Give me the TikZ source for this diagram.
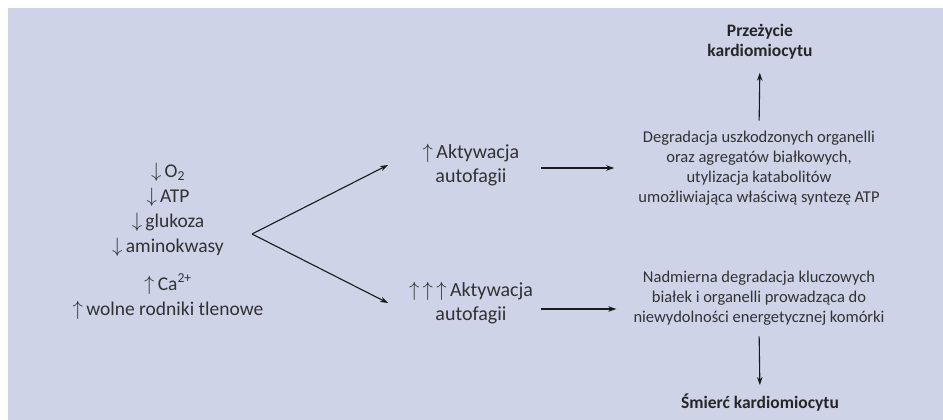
\documentclass[tikz,border=0pt]{standalone}
\usepackage{fontspec}
\setmainfont{Carlito}
\usetikzlibrary{arrows.meta}
\definecolor{panel}{RGB}{206,211,232}
\definecolor{ink}{RGB}{50,50,50}
\newcommand{\arrdown}{$\downarrow$}
\newcommand{\arrup}{$\uparrow$}

\begin{document}
\begin{tikzpicture}[x=1pt,y=-1pt,
    big/.style={align=center,inner sep=0pt,text=ink,font=\fontsize{19.5}{25}\selectfont},
    mid/.style={align=center,inner sep=0pt,text=ink,font=\fontsize{20}{24}\selectfont},
    small/.style={align=center,inner sep=0pt,text=ink,font=\fontsize{16.5}{20}\selectfont},
    hdr/.style={align=center,inner sep=0pt,text=black!85,font=\bfseries\fontsize{17.5}{20}\selectfont},
    arr/.style={-{Stealth[length=8pt,width=5.5pt]},line width=1.1pt,draw=black!90}]
    \useasboundingbox (0,0) rectangle (943,420);
    \fill[panel] (8,8) rectangle (943,420);
    % causes
    \node[big] (lack) at (168,209.5) {\arrdown\,O\textsubscript{2}\\ \arrdown\,ATP\\ \arrdown\,glukoza\\ \arrdown\,aminokwasy};
    \node[big] (excess) at (168,296.5) {\arrup\,Ca\textsuperscript{2+}\\ \arrup\,wolne rodniki tlenowe};
    \coordinate (split) at (252,234);
    \coordinate (tipA) at (388,165);
    \coordinate (tipB) at (388,303);
    % autophagy
    \node[mid] (actA) at (471,165) {\arrup\,Aktywacja\\ autofagii};
    \node[mid] (actB) at (471,303) {\arrup\,\arrup\,\arrup\,Aktywacja\\ autofagii};
    \draw[arr] (split) -- (tipA);
    \draw[arr] (split) -- (tipB);
    % effects
    \node[small] (degrA) at (759,168) {Degradacja uszkodzonych organelli\\ oraz agregatów białkowych,\\ utylizacja katabolitów\\ umożliwiająca właściwą syntezę ATP};
    \node[small] (degrB) at (759,298) {Nadmierna degradacja kluczowych\\ białek i organelli prowadząca do\\ niewydolności energetycznej komórki};
    \draw[arr] (actA.east |- degrA) ++(22,0) -- ([xshift=-24pt]degrA.west);
    \draw[arr] (actB.east |- degrB) ++(8,11) -- ([xshift=-17pt,yshift=-11pt]degrB.west);
    % outcomes
    \node[hdr] (survive) at (760,42) {Przeżycie\\ kardiomiocytu};
    \node[hdr] (death) at (760,403) {Śmierć kardiomiocytu};
    \draw[arr, shorten <=10pt, shorten >=13pt] (degrA.north) -- (survive.south);
    \draw[arr, shorten <=11pt, shorten >=9pt] (degrB.south) -- (death.north);
\end{tikzpicture}
\end{document}
